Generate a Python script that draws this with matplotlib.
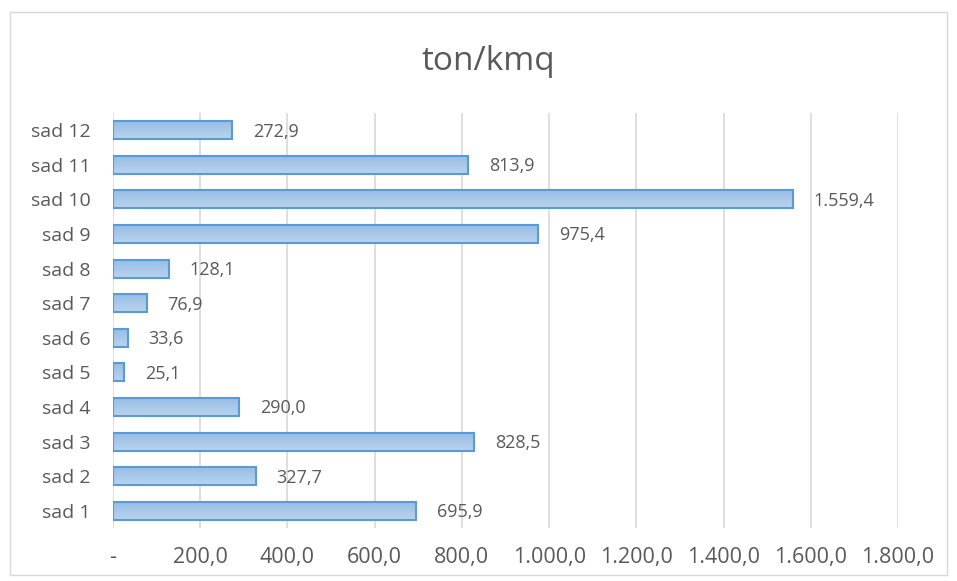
import numpy as np
import matplotlib
matplotlib.use('Agg')
import matplotlib.pyplot as plt
from matplotlib.patches import Rectangle

categories = ['sad 1', 'sad 2', 'sad 3', 'sad 4', 'sad 5', 'sad 6',
              'sad 7', 'sad 8', 'sad 9', 'sad 10', 'sad 11', 'sad 12']
values = [695.9, 327.7, 828.5, 290.0, 25.1, 33.6,
          76.9, 128.1, 975.4, 1559.4, 813.9, 272.9]
xticks = [0, 200, 400, 600, 800, 1000, 1200, 1400, 1600, 1800]


def it_fmt(v):
    if v == 0:
        return '-'
    s = f'{v:,.1f}'
    return s.replace(',', 'X').replace('.', ',').replace('X', '.')


plt.rcParams['font.family'] = ['Open Sans', 'DejaVu Sans']
grey = '#595959'

fig = plt.figure(figsize=(9.57, 5.81), dpi=100)
ax = fig.add_axes([113 / 957, 1 - 528 / 581, (898 - 113) / 957, (528 - 113) / 581])

fig.patches.append(Rectangle((10 / 957, 6 / 581), 937 / 957, 563 / 581,
                             transform=fig.transFigure, fill=False,
                             edgecolor='#d9d9d9', linewidth=1))

y = np.arange(len(categories))
bars = ax.barh(y, values, height=0.52, color='none', edgecolor='#5b9bd5',
               linewidth=1.5, zorder=3)

# vertical gradient fill inside each bar
grad = np.linspace(0, 1, 64).reshape(-1, 1)
cmap = matplotlib.colors.LinearSegmentedColormap.from_list('g', ['#bad3ee', '#98bde6'])
for b in bars:
    x0, y0 = b.get_x(), b.get_y()
    w, h = b.get_width(), b.get_height()
    im = ax.imshow(grad, extent=(x0, x0 + w, y0 + h, y0), cmap=cmap,
                   aspect='auto', zorder=2, origin='upper')
    im.set_clip_path(b)

for yi, v in zip(y, values):
    ax.annotate(it_fmt(v), (v, yi), xytext=(15, -1), textcoords='offset points',
                va='center', ha='left', fontsize=13, color=grey)

ax.set_xlim(0, 1800)
ax.set_ylim(-0.5, len(categories) - 0.5)
ax.set_xticks(xticks)
ax.set_xticklabels([it_fmt(t) for t in xticks])
ax.set_yticks(y)
ax.set_yticklabels(categories)
ax.tick_params(axis='both', length=0, labelsize=14, colors=grey)
ax.tick_params(axis='x', labelsize=15.5, pad=14)
ax.tick_params(axis='y', pad=16)
ax.grid(axis='x', color='#d9d9d9', linewidth=1.2, zorder=0)
ax.set_axisbelow(True)
for s in ax.spines.values():
    s.set_visible(False)

fig.text(488 / 957, 1 - 62 / 581, 'ton/kmq', ha='center', va='center',
         fontsize=24, color=grey)

fig.savefig('out.png', dpi=100)
